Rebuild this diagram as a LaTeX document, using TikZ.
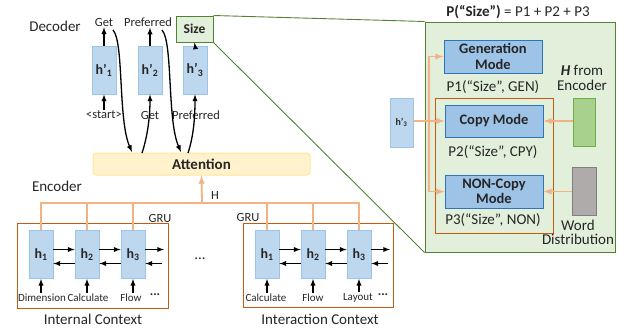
\documentclass[tikz,border=0pt]{standalone}
\usepackage{fontspec}
\setmainfont{Carlito}
\usepackage{tikz}
\usetikzlibrary{arrows,shapes,positioning}
\usepackage{xcolor}
\definecolor{cellfill}{RGB}{189,215,238}
\definecolor{cellline}{RGB}{157,195,230}
\definecolor{modefill}{RGB}{157,195,230}
\definecolor{modeline}{RGB}{46,117,182}
\definecolor{attfill}{RGB}{255,242,204}
\definecolor{attline}{RGB}{255,230,153}
\definecolor{zoomfill}{RGB}{226,239,218}
\definecolor{zoomline}{RGB}{84,130,53}
\definecolor{hfill}{RGB}{169,209,142}
\definecolor{hline}{RGB}{112,173,71}
\definecolor{wfill}{RGB}{175,171,171}
\definecolor{wline}{RGB}{127,127,127}
\definecolor{peach}{RGB}{244,177,131}
\definecolor{rust}{RGB}{197,90,17}
\definecolor{txt}{RGB}{38,38,38}
\tikzstyle{arrow} = [line width=1.3pt,->,>=latex,color=black]
\tikzstyle{peacharrow} = [line width=1.8pt,->,>=latex,color=peach]
\tikzstyle{peachline} = [line width=2pt,color=peach]
\tikzstyle{cell} = [rectangle, minimum width=24pt, minimum height=48pt, inner sep=0pt, draw=cellline, fill=cellfill, line width=0.8pt, text=txt, font=\fontsize{14}{16}\selectfont\bfseries]
\tikzstyle{mode} = [rectangle, minimum width=98pt, minimum height=33pt, inner sep=0pt, align=center, draw=modeline, fill=modefill, line width=1pt, text=txt, font=\fontsize{14.5}{15.5}\selectfont\bfseries]
\tikzstyle{small} = [inner sep=1pt, text=txt, font=\fontsize{11}{12}\selectfont]
\tikzstyle{word} = [inner sep=1pt, text=txt, font=\fontsize{12.5}{13}\selectfont]
\tikzstyle{big} = [inner sep=1pt, text=txt, font=\fontsize{15}{16}\selectfont]
\tikzstyle{context} = [rectangle, draw=rust, line width=1pt, inner sep=0pt]

\begin{document}
\begin{tikzpicture}[x=1pt, y=-1pt]
\useasboundingbox (0,0) rectangle (631,335);

% Decoder
\node (declabel) [big] at (55,26) {Decoder};
\node (dec1) [cell] at (104,70) {h’\textsubscript{1}};
\node (dec2) [cell] at (150,70) {h’\textsubscript{2}};
\node (dec3) [cell] at (195,70) {h’\textsubscript{3}};
\node (out1) [word] at (104,22) {Get};
\node (out2) [word] at (148,22) {Preferred};
\node (size) [rectangle, minimum width=37pt, minimum height=26pt, draw=zoomline, fill=zoomfill, line width=1pt, text=txt, font=\fontsize{13.5}{15}\selectfont\bfseries] at (194.5,29) {Size};
\node (in1) [word] at (104,115) {\textless start\textgreater};
\node (in2) [word] at (150,115) {Get};
\node (in3) [word] at (196,115) {Preferred};

\draw[arrow] (dec1.north) -- (out1.south);
\draw[arrow] (dec2.north) -- (dec2.north |- out2.south);
\draw[arrow] (dec3.north) -- (size.south);
\draw[arrow] (in1.north) -- (dec1.south);

% Attention
\node (att) [rectangle, rounded corners=3pt, minimum width=217pt, minimum height=22pt, draw=attline, fill=attfill, line width=1pt, text=txt, font=\fontsize{15}{16}\selectfont\bfseries] at (201.5,164) {Attention};
\coordinate (feed1) at (113,30);
\coordinate (feed2) at (162,30);
\draw[arrow] (feed1) .. controls (124,42) and (118,120) .. (132,152);
\draw[arrow] (feed2) .. controls (173,42) and (167,120) .. (181,152);
\draw[arrow] (142,153) .. controls (148,135) and (150,115) .. (dec2.south);
\draw[arrow] (188,153) .. controls (194,135) and (195,115) .. (dec3.south);

% Encoder
\node (enclabel) [big] at (57,186) {Encoder};
\node (internal) [context, minimum width=151pt, minimum height=85pt] at (92.5,265.5) {};
\node (interact) [context, minimum width=150pt, minimum height=84pt] at (318,265) {};
\node (gru1) [word] at (160,218) {GRU};
\node (gru2) [word] at (248,217) {GRU};
\node (intlabel) [big] at (93,319) {Internal Context};
\node (iaclabel) [big] at (320,319) {Interaction Context};
\node (gap) [big] at (200,259) {...};

\foreach \name/\x in {a1/41,a2/87,a3/133,b1/267,b2/313,b3/359}
  \node (\name) [cell] at (\x,254.5) {};
\node at (a1) [text=txt, font=\fontsize{14}{16}\selectfont\bfseries] {h\textsubscript{1}};
\node at (a2) [text=txt, font=\fontsize{14}{16}\selectfont\bfseries] {h\textsubscript{2}};
\node at (a3) [text=txt, font=\fontsize{14}{16}\selectfont\bfseries] {h\textsubscript{3}};
\node at (b1) [text=txt, font=\fontsize{14}{16}\selectfont\bfseries] {h\textsubscript{1}};
\node at (b2) [text=txt, font=\fontsize{14}{16}\selectfont\bfseries] {h\textsubscript{2}};
\node at (b3) [text=txt, font=\fontsize{14}{16}\selectfont\bfseries] {h\textsubscript{3}};

% GRU links
\foreach \l/\r in {a1/a2,a2/a3,b1/b2,b2/b3} {
  \draw[arrow] ([yshift=5pt]\l.east) -- ([yshift=5pt]\r.west);
  \draw[arrow] ([yshift=-9pt]\r.west) -- ([yshift=-9pt]\l.east);
}
\coordinate (aend1) at (164,249.5);
\coordinate (aend2) at (162,263.5);
\coordinate (bend1) at (390,249.5);
\coordinate (bend2) at (388,263.5);
\draw[arrow] ([yshift=5pt]a3.east) -- (aend1);
\draw[arrow] (aend2) -- ([yshift=-9pt]a3.east);
\draw[arrow] ([yshift=5pt]b3.east) -- (bend1);
\draw[arrow] (bend2) -- ([yshift=-9pt]b3.east);

% Inputs
\node (ta1) [small] at (42,298) {Dimension};
\node (ta2) [small] at (88,298) {Calculate};
\node (ta3) [small] at (131,298) {Flow};
\node (ta4) [small, font=\fontsize{13}{14}\selectfont\bfseries] at (155,295) {...};
\node (tb1) [small] at (266,298) {Calculate};
\node (tb2) [small] at (313,298) {Flow};
\node (tb3) [small] at (358,298) {Layout};
\node (tb4) [small, font=\fontsize{13}{14}\selectfont\bfseries] at (383,295) {...};
\foreach \t/\c in {ta1/a1,ta2/a2,ta3/a3,tb1/b1,tb2/b2,tb3/b3}
  \draw[arrow] (\c.south |- \t.north) -- (\c.south);

% H bus
\coordinate (hbus) at (202,203);
\draw[peachline] (a1.north) |- (b3.north |- hbus) -- (b3.north);
\foreach \c in {a2,a3,b1,b2}
  \draw[peachline] (\c.north |- hbus) -- (\c.north);
\draw[peacharrow] (hbus) -- (att.south);
\node (hlabel) [word] at (215,195) {H};

% Zoomed output step
\node (panel) [rectangle, minimum width=190pt, minimum height=230pt, draw=zoomline, fill=zoomfill, line width=1pt] at (520,137) {};
\draw[zoomline, line width=0.9pt] (size.north east) -- (panel.north west);
\draw[zoomline, line width=0.9pt] (size.south east) -- (panel.south west);
\node (ptitle) [big] at (518,12) {\textbf{P(“Size”)} = P1 + P2 + P3};

\node (copybox) [context, minimum width=118pt, minimum height=135pt] at (494,165.5) {};
\node (gen) [mode] at (493,56.5) {Generation\\Mode};
\node (copy) [mode, minimum height=32pt] at (494,121) {Copy Mode};
\node (noncopy) [mode] at (494,191.5) {NON-Copy\\Mode};
\node (p1) [big] at (493,87) {P1(“Size”, GEN)};
\node (p2) [big] at (493,152) {P2(“Size”, CPY)};
\node (p3) [big] at (493,220) {P3(“Size”, NON)};

\node (hbox) [rectangle, minimum width=22pt, minimum height=48pt, draw=hline, fill=hfill, line width=1pt] at (584,122) {};
\node (hfrom) [big] at (582,70) {\textbf{\textit{H}} from};
\node (hfrom2) [big] at (582,85) {Encoder};
\node (wbox) [rectangle, minimum width=24pt, minimum height=48pt, draw=wline, fill=wfill, line width=1pt] at (584,191) {};
\node (wlabel) [big] at (578,225) {Word};
\node (wlabel2) [big] at (578,239) {Distribution};
\node (hdec) [cell, minimum width=23pt, minimum height=49pt, font=\fontsize{10}{12}\selectfont\bfseries] at (401.5,122.5) {h’\textsubscript{3}};

\coordinate (split) at (429,122);
\draw[peacharrow] (hdec.east |- copy.west) -- (copy.west);
\draw[peacharrow] (split) |- (gen.west);
\draw[peacharrow] (split) |- (noncopy.west);
\draw[peacharrow] (hbox.west |- copy.east) -- (copy.east);
\draw[peacharrow] (wbox.west |- noncopy.east) -- (noncopy.east);
\end{tikzpicture}
\end{document}
